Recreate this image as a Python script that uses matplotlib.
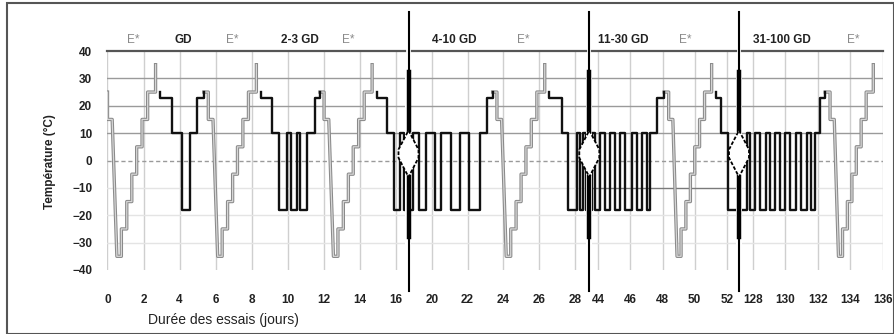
import matplotlib
matplotlib.use("Agg")
import matplotlib.pyplot as plt
import matplotlib.patheffects as pe
from matplotlib.patches import Polygon, Rectangle

plt.rcParams['font.family'] = ['Liberation Sans', 'DejaVu Sans']

W, H = 895, 334

# broken time axis: days shown in each panel and its horizontal span in pixels
seg_days = [(0.0, 16.72), (18.7, 28.8), (43.45, 52.75), (127.13, 136.0)]
seg_px = [(107.5, 408.5), (408.5, 589.3), (589.3, 739.0), (739.0, 882.7)]
seg_ticks = [[0, 2, 4, 6, 8, 10, 12, 14, 16],
             [20, 22, 24, 26, 28],
             [44, 46, 48, 50, 52],
             [128, 130, 132, 134, 136]]
y_ticks = [40, 30, 20, 10, 0, -10, -20, -30, -40]

# E* programme: offsets (days) from its start and temperature levels (°C)
estar_dt = [0, 0, 0.26, 0.52, 0.77, 0.77, 1.07, 1.07, 1.35, 1.35, 1.62, 1.62,
            1.92, 1.92, 2.23, 2.23, 2.67, 2.67]
estar_temp = [25, 15, 15, -35, -35, -25, -25, -15, -15, -5, -5, 5,
              5, 15, 15, 25, 25, 35]
estar_start = [0.0, 5.6, 12.03, 23.64, 48.38, 132.75]
estar_label_x = [1.42, 6.92, 13.36, 25.1, 49.4, 134.2]

# freeze-thaw blocks following each E*
gd_labels = ["GD", "2-3 GD", "4-10 GD", "11-30 GD", "31-100 GD"]
gd_label_x = [4.19, 10.7, 21.25, 45.55, 129.8]
gd_hold_end = [3.6, 9.12, 15.51, 27.26, 51.66]      # end of 23 °C hold
gd_freeze = [                                        # -18 °C windows
    [(4.16, 4.58)],
    [(9.53, 9.96), (10.2, 10.5), (10.7, 11.07)],
    [(15.92, 16.25), (16.45, 18.95), (19.3, 19.7), (20.18, 20.54),
     (21.06, 21.56), (22.08, 22.68)],
    [(27.63, 28.1), (28.28, 28.47), (28.62, 43.6), (43.81, 44.12),
     (44.43, 44.75), (45.06, 45.37), (45.68, 46.1), (46.41, 46.73),
     (47.04, 47.24)],
    [(52.07, 127.6), (127.8, 128.12), (128.43, 128.8), (129.06, 129.37),
     (129.65, 130.0), (130.3, 130.65), (130.95, 131.3), (131.55, 131.85)],
]
gd_thaw_end = [4.99, 11.53, 23.06, 47.66, 132.1]     # end of 10 °C hold
gd_rise_end = [5.35, 11.8, 23.4, 48.1, 132.45]       # end of 23 °C step
GD_HOLD, GD_THAW, GD_FREEZE, GD_TOP = 23, 10, -18, 25
E_END = 2.93


def estar_path(i):
    t0 = estar_start[i]
    xs = [t0 + d for d in estar_dt]
    ys = list(estar_temp)
    if i > 0:
        xs = [gd_rise_end[i - 1]] + xs
        ys = [GD_TOP] + ys
    return xs, ys


def gd_path(i):
    t0 = estar_start[i] + E_END
    xs = [t0, t0, gd_hold_end[i], gd_hold_end[i]]
    ys = [GD_TOP, GD_HOLD, GD_HOLD, GD_THAW]
    for a, b in gd_freeze[i]:
        xs += [a, a, b, b]
        ys += [GD_THAW, GD_FREEZE, GD_FREEZE, GD_THAW]
    xs += [gd_thaw_end[i], gd_thaw_end[i], gd_rise_end[i], gd_rise_end[i]]
    ys += [GD_THAW, GD_HOLD, GD_HOLD, GD_TOP]
    return xs, ys


fig = plt.figure(figsize=(W / 100, H / 100), dpi=100)
y_top, y_bot = 51, 270
axes = []
for k, ((d0, d1), (p0, p1)) in enumerate(zip(seg_days, seg_px)):
    scale = (p1 - p0) / (d1 - d0)
    gl = 3 if k > 0 else 0
    gr = 3 if k < 3 else 0
    ax = fig.add_axes([(p0 + gl) / W, 1 - y_bot / H, (p1 - p0 - gl - gr) / W,
                       (y_bot - y_top) / H])
    ax.set_xlim(d0 + gl / scale, d1 - gr / scale)
    ax.set_ylim(-40, 40)
    for s in ['left', 'right', 'bottom']:
        ax.spines[s].set_visible(False)
    ax.spines['top'].set_color('#555555')
    ax.spines['top'].set_linewidth(1.6)

    for t in seg_ticks[k]:
        ax.axvline(t, color='#cfcfcf', lw=1.0, zorder=0)
    for v in [30, 20, 10]:
        ax.axhline(v, color='#9a9a9a', lw=1.0, zorder=0)
    for v in [-10, -20, -30]:
        ax.axhline(v, color='#7a7a7a' if (k == 2 and v == -10) else '#e4e4e4',
                   lw=1.0, zorder=0)
    ax.axhline(0, color='#9a9a9a', lw=1.0, ls=(0, (3, 2)), zorder=0)

    ax.set_xticks(seg_ticks[k])
    ax.set_xticklabels([str(t) for t in seg_ticks[k]])
    ax.tick_params(axis='x', length=0, pad=17, labelsize=8.5)
    if k == 0:
        ax.set_yticks(y_ticks)
        ax.tick_params(axis='y', length=0, pad=11, labelsize=8.5)
    else:
        ax.set_yticks([])
    for lab in ax.get_xticklabels() + ax.get_yticklabels():
        lab.set_fontweight('bold')
        lab.set_color('#222222')

    for i in range(len(estar_start)):
        xs, ys = estar_path(i)
        ax.plot(xs, ys, color='#d6d6d6', lw=0.9, zorder=2,
                path_effects=[pe.Stroke(linewidth=2.4, foreground='#8a8a8a'),
                              pe.Normal()])
    for i in range(len(gd_labels)):
        xs, ys = gd_path(i)
        ax.plot(xs, ys, color='#111111', lw=1.7, zorder=3)

    for x in estar_label_x:
        if d0 <= x <= d1:
            ax.text(x, 44, "E*", color='#8a8a8a', fontsize=8.5,
                    ha='center', va='center', clip_on=False)
    for x, lab in zip(gd_label_x, gd_labels):
        if d0 <= x <= d1:
            ax.text(x, 44, lab, color='#222222', fontsize=8.5,
                    fontweight='bold', ha='center', va='center', clip_on=False)

    # break marker on the left edge of every panel after the first
    if k > 0:
        xb = d0
        w = 10 / scale
        ax.plot([xb, xb], [-47.7, 54.2], color='black', lw=1.5,
                clip_on=False, zorder=6)
        ax.plot([xb, xb], [11, 32.4], color='black', lw=3.2,
                clip_on=False, zorder=6)
        ax.plot([xb, xb], [-28, -6], color='black', lw=3.2,
                clip_on=False, zorder=6)
        ax.add_patch(Polygon([(xb, 11), (xb + w, 4), (xb + w, 1), (xb, -6),
                              (xb - w, 1), (xb - w, 4)], closed=True,
                             facecolor='white', edgecolor='black', lw=1.3,
                             ls=(0, (2, 1)), clip_on=False, zorder=7))
    axes.append(ax)

fig.text(50 / W, 1 - 162 / H, "Température (°C)", rotation=90, fontsize=8.5,
         fontweight='bold', color='#222222', ha='center', va='center')
fig.text(148 / W, 1 - 320 / H, "Durée des essais (jours)", fontsize=10,
         color='#222222', ha='left', va='center')

fig.add_artist(Rectangle((7 / W, 0.0), (W - 8) / W, 1 - 3 / H,
                         transform=fig.transFigure, fill=False,
                         edgecolor='#555555', lw=1.5))

fig.savefig("out.png", dpi=100)
